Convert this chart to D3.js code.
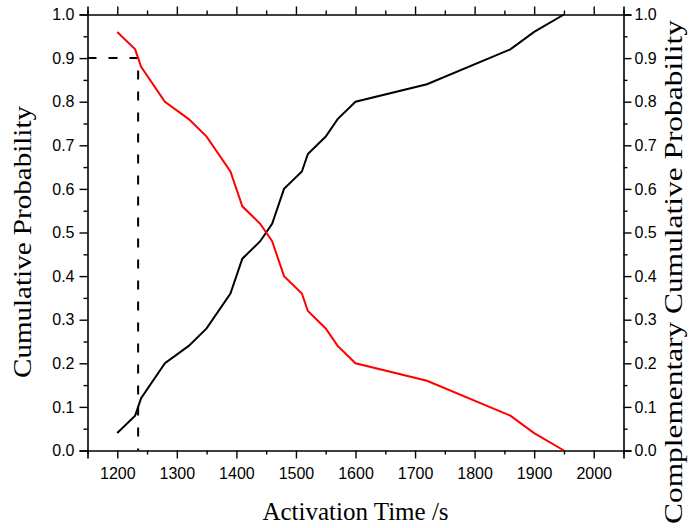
<!DOCTYPE html>
<html>
<head>
<meta charset="utf-8">
<script src="https://cdn.jsdelivr.net/npm/d3@7"></script>
<style>
	body { margin: 0; background: #fff; }
</style>
</head>
<body>
<script>
(function(){

	//activation times (s) and the probabilities
	var times = [1200, 1230, 1240, 1280, 1320, 1350, 1390, 1410, 1440, 1460, 1480, 1510, 1520, 1550, 1570, 1600, 1720, 1860, 1900, 1950];
	var cumulative = [0.04, 0.08, 0.12, 0.20, 0.24, 0.28, 0.36, 0.44, 0.48, 0.52, 0.60, 0.64, 0.68, 0.72, 0.76, 0.80, 0.84, 0.92, 0.96, 1.00];
	var complementary = [0.96, 0.92, 0.88, 0.80, 0.76, 0.72, 0.64, 0.56, 0.52, 0.48, 0.40, 0.36, 0.32, 0.28, 0.24, 0.20, 0.16, 0.08, 0.04, 0.00];

	//dashed guide: time where the complementary curve crosses 0.9
	var guideTime = 1235,
		guideProb = 0.9;

	//tick values
	var xMajor = [1200, 1300, 1400, 1500, 1600, 1700, 1800, 1900, 2000],
		xMinor = [1150, 1250, 1350, 1450, 1550, 1650, 1750, 1850, 1950, 2050],
		yMajor = [0, 0.1, 0.2, 0.3, 0.4, 0.5, 0.6, 0.7, 0.8, 0.9, 1.0],
		yMinor = [0.05, 0.15, 0.25, 0.35, 0.45, 0.55, 0.65, 0.75, 0.85, 0.95];

	//frame dimensions
	var width = 689,
		height = 528,
		left = 87.5,
		right = 623.5,
		top = 14.5,
		bottom = 450.5;

	var sansFont = "'Liberation Sans', Arial, sans-serif",
		serifFont = "'Liberation Serif', 'Times New Roman', serif";

	var xScale = d3.scaleLinear()
		.domain([1150, 2050])
		.range([left, right]);

	var yScale = d3.scaleLinear()
		.domain([0, 1])
		.range([bottom, top]);

	var svg = d3.select("body")
		.append("svg")
		.attr("width", width)
		.attr("height", height);

	var noLabel = function(){ return ""; },
		xFmt = d3.format("d"),
		yFmt = d3.format(".1f");

	//the four axes, all with ticks pointing outward
	var axes = [
		{fn: d3.axisBottom, scale: xScale, tr: "translate(0," + bottom + ")", major: xMajor, minor: xMinor, fmt: xFmt, pad: 9},
		{fn: d3.axisTop, scale: xScale, tr: "translate(0," + top + ")", major: xMajor, minor: xMinor, fmt: noLabel, pad: 4},
		{fn: d3.axisLeft, scale: yScale, tr: "translate(" + left + ",0)", major: yMajor, minor: yMinor, fmt: yFmt, pad: 5},
		{fn: d3.axisRight, scale: yScale, tr: "translate(" + right + ",0)", major: yMajor, minor: yMinor, fmt: yFmt, pad: 3}
	];

	axes.forEach(function(a){
		//minor ticks, no labels
		svg.append("g")
			.attr("class", "minor")
			.attr("transform", a.tr)
			.call(a.fn(a.scale).tickValues(a.minor).tickSize(4).tickFormat(noLabel))
			.call(function(g){ g.select(".domain").remove(); });

		//major ticks with labels
		svg.append("g")
			.attr("class", "major")
			.attr("transform", a.tr)
			.call(a.fn(a.scale).tickValues(a.major).tickSize(8).tickPadding(a.pad).tickFormat(a.fmt))
			.selectAll("text")
			.attr("font-family", sansFont)
			.attr("font-size", "16px")
			.attr("fill", "#000");
	});

	//axis line styling
	svg.selectAll(".domain")
		.attr("stroke", "#000")
		.attr("stroke-width", 1.6);
	svg.selectAll(".tick line")
		.attr("stroke", "#000")
		.attr("stroke-width", 1.4);

	//line generator
	var line = d3.line()
		.x(function(d){ return xScale(d[0]); })
		.y(function(d){ return yScale(d[1]); });

	var cumData = times.map(function(t, i){ return [t, cumulative[i]]; }),
		compData = times.map(function(t, i){ return [t, complementary[i]]; });

	//dashed guide line
	svg.append("path")
		.datum([[1150, guideProb], [guideTime, guideProb], [guideTime, 0]])
		.attr("d", line)
		.attr("fill", "none")
		.attr("stroke", "#000")
		.attr("stroke-width", 2)
		.attr("stroke-dasharray", "9,12");

	svg.append("path")
		.datum(cumData)
		.attr("class", "cumulative")
		.attr("d", line)
		.attr("fill", "none")
		.attr("stroke", "#000")
		.attr("stroke-width", 2);

	svg.append("path")
		.datum(compData)
		.attr("class", "complementary")
		.attr("d", line)
		.attr("fill", "none")
		.attr("stroke", "#ff0000")
		.attr("stroke-width", 2);

	//axis titles
	svg.append("text")
		.attr("x", (left + right) / 2)
		.attr("y", 520)
		.attr("text-anchor", "middle")
		.attr("font-family", serifFont)
		.attr("font-size", "25px")
		.text("Activation Time /s");

	svg.append("text")
		.attr("transform", "translate(31,242) rotate(-90)")
		.attr("text-anchor", "middle")
		.attr("font-family", serifFont)
		.attr("font-size", "25px")
		.attr("textLength", 272)
		.attr("lengthAdjust", "spacingAndGlyphs")
		.text("Cumulative Probability");

	svg.append("text")
		.attr("transform", "translate(682,272) rotate(-90)")
		.attr("text-anchor", "middle")
		.attr("font-family", serifFont)
		.attr("font-size", "25px")
		.attr("textLength", 504)
		.attr("lengthAdjust", "spacingAndGlyphs")
		.text("Complementary  Cumulative Probability");

})();
</script>
</body>
</html>
